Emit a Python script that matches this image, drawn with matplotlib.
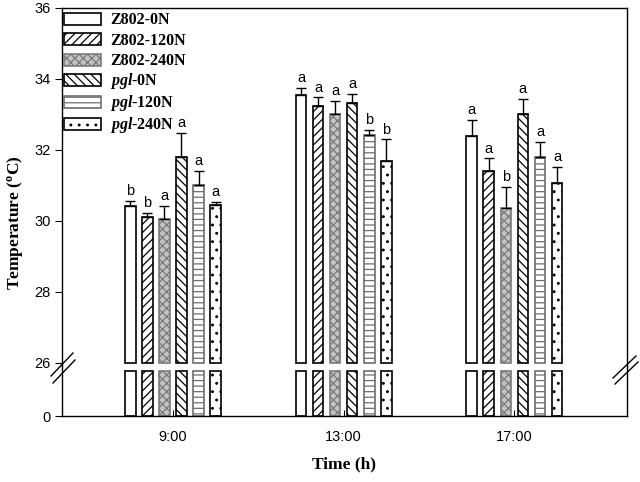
import matplotlib
matplotlib.use('Agg')
import matplotlib.pyplot as plt
from matplotlib.lines import Line2D
from matplotlib.patches import Rectangle
from matplotlib.legend_handler import HandlerPatch
import numpy as np

plt.rcParams['font.family'] = 'Liberation Sans'
plt.rcParams['mathtext.fontset'] = 'custom'
plt.rcParams['mathtext.rm'] = 'Liberation Serif:bold'
plt.rcParams['mathtext.it'] = 'Liberation Serif:italic:bold'
plt.rcParams['hatch.linewidth'] = 0.9

times = ['9:00', '13:00', '17:00']
treatments = ['Z802-0N', 'Z802-120N', 'Z802-240N', 'pgl-0N', 'pgl-120N', 'pgl-240N']
labels = ['Z802-0N', 'Z802-120N', 'Z802-240N',
          r'$\it{pgl}$-0N', r'$\it{pgl}$-120N', r'$\it{pgl}$-240N']

# mean temperature per treatment, one value per time
means = {
    'Z802-0N':   [30.42, 33.55, 32.40],
    'Z802-120N': [30.10, 33.24, 31.42],
    'Z802-240N': [30.05, 33.00, 30.36],
    'pgl-0N':    [31.81, 33.33, 33.01],
    'pgl-120N':  [31.01, 32.42, 31.79],
    'pgl-240N':  [30.45, 31.70, 31.08],
}
errors = {
    'Z802-0N':   [0.15, 0.19, 0.45],
    'Z802-120N': [0.12, 0.24, 0.34],
    'Z802-240N': [0.37, 0.38, 0.61],
    'pgl-0N':    [0.68, 0.26, 0.42],
    'pgl-120N':  [0.41, 0.14, 0.44],
    'pgl-240N':  [0.09, 0.60, 0.45],
}
letters = {
    'Z802-0N':   ['b', 'a', 'a'],
    'Z802-120N': ['b', 'a', 'a'],
    'Z802-240N': ['a', 'a', 'b'],
    'pgl-0N':    ['a', 'a', 'a'],
    'pgl-120N':  ['a', 'b', 'a'],
    'pgl-240N':  ['a', 'b', 'a'],
}

styles = [
    dict(facecolor='white', edgecolor='black', hatch=None),
    dict(facecolor='white', edgecolor='black', hatch='////'),
    dict(facecolor='#c4c4c4', edgecolor='#7a7a7a', hatch='xxxx'),
    dict(facecolor='white', edgecolor='black', hatch='\\\\\\\\'),
    dict(facecolor='white', edgecolor='#6e6e6e', hatch='---'),
    dict(facecolor='white', edgecolor='black', hatch='..'),
]

fig = plt.figure(figsize=(6.4, 4.82), dpi=100)
L, R = 62 / 640, 627 / 640
ytop, ybrk, ybot = 1 - 8 / 482, 1 - 366.5 / 482, 1 - 416 / 482
ax = fig.add_axes([L, ybrk, R - L, ytop - ybrk])
axb = fig.add_axes([L, ybot, R - L, ybrk - ybot])

x = np.arange(1, len(times) + 1)
width = 0.062
step = 0.1
handles = []
for i, t in enumerate(treatments):
    pos = x + (i - 2.5) * step
    st = styles[i]
    h = ax.bar(pos, np.array(means[t]) - 26, width, bottom=26, linewidth=1.2, **st)
    handles.append(h[0])
    axb.bar(pos, 26, width, linewidth=1.2, **st)
    ax.errorbar(pos, means[t], yerr=[np.zeros(3), errors[t]], fmt='none',
                ecolor='black', elinewidth=1, capsize=3.8, capthick=1)
    for px, m, e, s in zip(pos, means[t], errors[t], letters[t]):
        ax.annotate(s, (px, m + e), xytext=(0, 2), textcoords='offset points',
                    ha='center', va='bottom', fontsize=10.5)

ax.set_xlim(0.35, 3.66)
axb.set_xlim(0.35, 3.66)
ax.set_ylim(25.9, 36)
axb.set_ylim(0, 28.6)

ax.spines['bottom'].set_visible(False)
axb.spines['top'].set_visible(False)
ax.set_xticks([])
ax.set_yticks([26, 28, 30, 32, 34, 36])
axb.set_yticks([0])
axb.set_xticks(x)
axb.set_xticklabels(times)
for a in (ax, axb):
    a.tick_params(axis='y', direction='out', length=5, labelsize=10.5, pad=3)
    for s in a.spines.values():
        s.set_linewidth(1.0)
axb.tick_params(axis='x', direction='in', length=4, labelsize=10.5, pad=10)

ax.set_ylabel(r'Temperature ($^{\mathrm{o}}$C)', family='Liberation Serif',
              fontweight='bold', fontsize=12.5)
ax.yaxis.set_label_coords(-0.065, 0.40)
axb.set_xlabel('Time (h)', family='Liberation Serif', fontweight='bold',
               fontsize=12.5, labelpad=9)


def legend_box(legend, orig_handle, xdescent, ydescent, width, height, fontsize):
    h = 0.75 * fontsize
    return Rectangle((-xdescent, -ydescent + (height - h) / 2), width, h)


fs = 11.5
ax.legend(handles, labels, loc='upper left', bbox_to_anchor=(0, 1), frameon=False,
          prop=dict(family='Liberation Serif', weight='bold', size=fs),
          handler_map={Rectangle: HandlerPatch(patch_func=legend_box)},
          handlelength=2.32, handleheight=1.31, handletextpad=0.56,
          labelspacing=0.13, borderaxespad=0.0, borderpad=0.15)

# axis break marks
H = 482.0
def brk(x0, y0, x1, y1):
    fig.add_artist(Line2D([x0 / 640, x1 / 640], [1 - y0 / H, 1 - y1 / H],
                          color='black', lw=1.0, transform=fig.transFigure))
brk(51, 376, 73, 353)
brk(53, 383, 75, 360)
brk(613, 378, 636, 356)
brk(615, 384, 638, 362)

fig.savefig('out.png', dpi=100)
